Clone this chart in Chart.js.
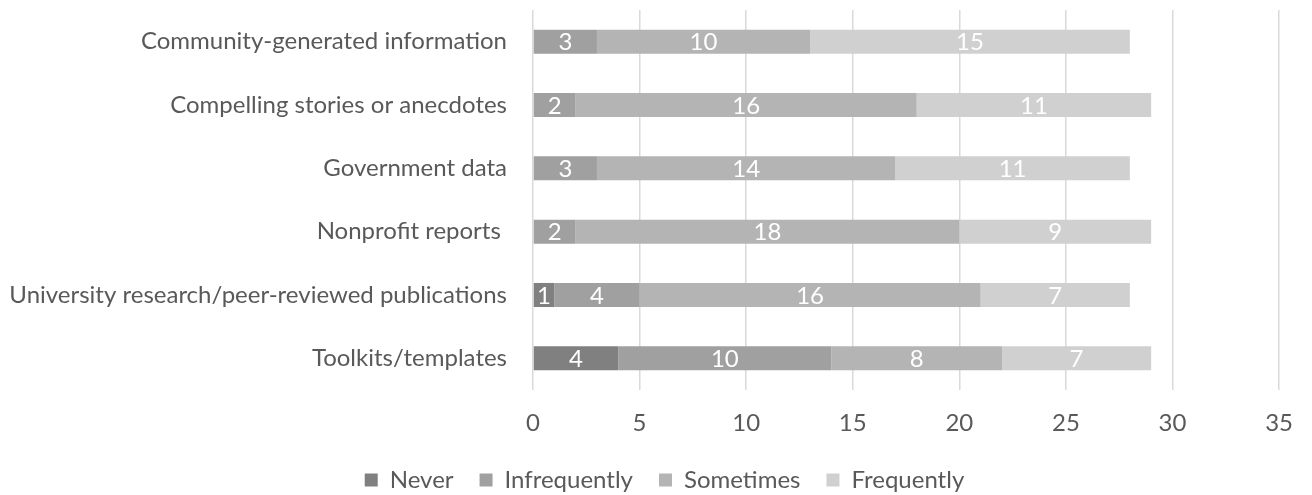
<!DOCTYPE html>
<html>
<head>
<meta charset="utf-8">
<script src="https://cdn.jsdelivr.net/npm/chart.js@4/dist/chart.umd.min.js"></script>
<style>
  html, body { margin: 0; padding: 0; background: #fff; }
  #wrap { width: 1312px; height: 495px; }
</style>
</head>
<body>
<div id="wrap"><canvas id="c" width="1312" height="495"></canvas></div>
<script>
// Survey: how often each source of information is used
const categories = [
  'Community-generated information',
  'Compelling stories or anecdotes',
  'Government data',
  'Nonprofit reports ',
  'University research/peer-reviewed publications',
  'Toolkits/templates'
];
const never        = [0, 0, 0, 0, 1, 4];
const infrequently = [3, 2, 3, 2, 4, 10];
const sometimes    = [10, 16, 14, 18, 16, 8];
const frequently   = [15, 11, 11, 9, 7, 7];
const xTicks = [0, 5, 10, 15, 20, 25, 30, 35];

const FONT = 'Lato, "Open Sans", sans-serif';
const TEXT = '#595959';
const SIZE = 24;

// Writes each segment's value in the middle of its bar
const segmentLabels = {
  id: 'segmentLabels',
  afterDatasetsDraw(chart) {
    const ctx = chart.ctx;
    ctx.save();
    ctx.font = SIZE + 'px ' + FONT;
    ctx.fillStyle = '#ffffff';
    ctx.textAlign = 'center';
    ctx.textBaseline = 'middle';
    chart.data.datasets.forEach((ds, i) => {
      const meta = chart.getDatasetMeta(i);
      meta.data.forEach((el, j) => {
        const v = ds.data[j];
        if (!v) return;
        const p = el.getProps(['x', 'y', 'base'], true);
        ctx.fillText(String(v), (p.x + p.base) / 2, p.y + 1);
      });
    });
    ctx.restore();
  }
};

// Fixed height for the legend strip, and a small nudge to centre it under the plot
const legendPlacement = {
  id: 'legendPlacement',
  beforeInit(chart) {
    const legend = chart.legend;
    const fit = legend.fit;
    legend.fit = function () {
      fit.call(this);
      this.height = 53;
    };
  },
  afterLayout(chart) {
    chart.legend.left += 20;
    chart.legend.right += 20;
  }
};

const bar = (label, data, color) => ({
  label, data,
  backgroundColor: color,
  borderWidth: 0,
  barPercentage: 0.38,
  categoryPercentage: 1
});

new Chart(document.getElementById('c'), {
  type: 'bar',
  data: {
    labels: categories,
    datasets: [
      bar('Never', never, '#808080'),
      bar('Infrequently', infrequently, '#a0a0a0'),
      bar('Sometimes', sometimes, '#b4b4b4'),
      bar('Frequently', frequently, '#d0d0d0')
    ]
  },
  options: {
    indexAxis: 'y',
    responsive: false,
    animation: false,
    devicePixelRatio: 1,
    layout: { padding: { top: 10, right: 23, left: 0, bottom: 0 } },
    scales: {
      x: {
        stacked: true,
        min: 0, max: 35,
        afterBuildTicks(scale) { scale.ticks = xTicks.map(v => ({ value: v })); },
        afterFit(scale) { scale.height = 52; },
        grid: { color: '#d9d9d9', lineWidth: 1.5, drawTicks: false },
        border: { display: false },
        ticks: { color: TEXT, font: { family: FONT, size: SIZE }, padding: 19 }
      },
      y: {
        stacked: true,
        afterFit(scale) {
          scale.width = 533;
          scale.paddingTop = 0;
          scale.paddingBottom = 0;
        },
        grid: { display: false, drawTicks: false },
        border: { display: false },
        ticks: { color: TEXT, font: { family: FONT, size: SIZE }, padding: 26 }
      }
    },
    plugins: {
      legend: {
        position: 'bottom',
        labels: {
          color: TEXT,
          font: { family: FONT, size: SIZE },
          boxWidth: 13, boxHeight: 13,
          padding: 26
        }
      },
      tooltip: { enabled: false }
    }
  },
  plugins: [segmentLabels, legendPlacement]
});
</script>
</body>
</html>
